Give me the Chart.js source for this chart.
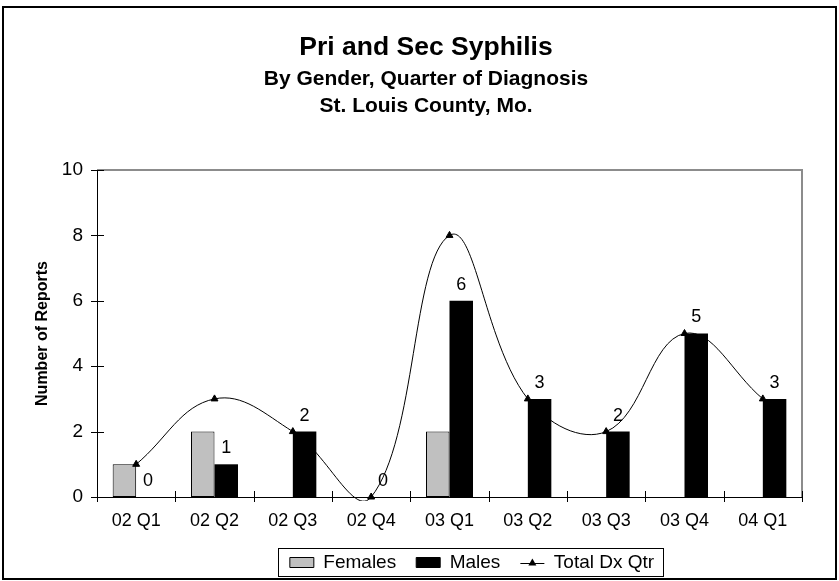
<!DOCTYPE html>
<html>
<head>
<meta charset="utf-8">
<title>Pri and Sec Syphilis</title>
<script src="https://cdn.jsdelivr.net/npm/chart.js@4.4.1/dist/chart.umd.min.js"></script>
<style>
  html, body { margin: 0; padding: 0; background: #fff; }
  #wrap { width: 839px; height: 581px; }
</style>
</head>
<body>
<div id="wrap"><canvas id="syphilisChart" width="839" height="581"></canvas></div>
<script>
// data
const quarters = ['02 Q1', '02 Q2', '02 Q3', '02 Q4', '03 Q1', '03 Q2', '03 Q3', '03 Q4', '04 Q1'];
const females = [1, 2, 0, 0, 2, 0, 0, 0, 0];
const males = [0, 1, 2, 0, 6, 3, 2, 5, 3];
const totalDx = [1, 3, 2, 0, 8, 3, 2, 5, 3];
const yTicks = [0, 2, 4, 6, 8, 10];

const FONT = "'Liberation Sans', Arial, sans-serif";
Chart.defaults.font.family = FONT;
Chart.defaults.color = '#000';

const LEGEND_SHIFT_X = 71;
const LEGEND_SHIFT_Y = 1;
const TITLE_SHIFT_X = 25;

// frame, plot border, cross ticks, value labels, legend box
const excelBits = {
    id: 'excelBits',
    afterLayout(chart) {
        const lg = chart.legend;
        lg.left += LEGEND_SHIFT_X;
        lg.right += LEGEND_SHIFT_X;
        lg.top += LEGEND_SHIFT_Y;
        lg.bottom += LEGEND_SHIFT_Y;
        // let the x labels use the room down to the legend
        chart.scales.x.bottom = lg.top + 12;
        // title and subtitle sit a little right of the canvas centre
        chart.boxes.forEach(b => {
            if (b.options && b.options.position === 'top' && 'text' in b.options) {
                b.left += TITLE_SHIFT_X;
                b.right += TITLE_SHIFT_X;
            }
        });
    },
    beforeDraw(chart) {
        const ctx = chart.ctx;
        ctx.save();
        ctx.fillStyle = '#fff';
        ctx.fillRect(0, 0, chart.width, chart.height);
        ctx.strokeStyle = '#000';
        ctx.lineWidth = 2;
        ctx.strokeRect(3, 7, 833, 572);
        ctx.restore();
    },
    beforeDatasetsDraw(chart) {
        const ctx = chart.ctx;
        const a = chart.chartArea;
        const y = chart.scales.y;
        ctx.save();
        // grey top/right edge of the plot area
        ctx.strokeStyle = '#8c8c8c';
        ctx.lineWidth = 2;
        ctx.beginPath();
        ctx.moveTo(a.left, a.top);
        ctx.lineTo(a.right, a.top);
        ctx.lineTo(a.right, a.bottom);
        ctx.stroke();
        // ticks crossing the axes
        ctx.strokeStyle = '#000';
        ctx.lineWidth = 1;
        ctx.beginPath();
        yTicks.forEach(v => {
            const py = Math.round(y.getPixelForValue(v)) + 0.5;
            ctx.moveTo(a.left - 6, py);
            ctx.lineTo(a.left + 7, py);
        });
        const step = (a.right - a.left) / quarters.length;
        for (let i = 0; i <= quarters.length; i++) {
            const px = Math.round(a.left + i * step) + 0.5;
            ctx.moveTo(px, a.bottom - 6);
            ctx.lineTo(px, a.bottom + 5);
        }
        ctx.stroke();
        ctx.restore();
    },
    afterDatasetsDraw(chart) {
        const ctx = chart.ctx;
        const meta = chart.getDatasetMeta(1);
        ctx.save();
        ctx.fillStyle = '#000';
        ctx.font = '18px ' + FONT;
        ctx.textAlign = 'center';
        ctx.textBaseline = 'middle';
        meta.data.forEach((bar, i) => {
            ctx.fillText(String(males[i]), bar.x, bar.y - 16);
        });
        ctx.restore();
    },
    afterDraw(chart) {
        const ctx = chart.ctx;
        const hits = chart.legend.legendHitBoxes;
        if (!hits || !hits.length) return;
        const first = hits[0], last = hits[hits.length - 1];
        const cy = first.top + first.height / 2;
        ctx.save();
        ctx.strokeStyle = '#000';
        ctx.lineWidth = 1;
        ctx.strokeRect(Math.round(first.left - 12) + 0.5, Math.round(cy - 15) + 0.5,
            Math.round(last.left + last.width + 9 - (first.left - 12)), 28);
        // line sample with triangle marker
        ctx.beginPath();
        ctx.moveTo(last.left, Math.round(cy) + 0.5);
        ctx.lineTo(last.left + 24, Math.round(cy) + 0.5);
        ctx.stroke();
        const mx = last.left + 12;
        ctx.fillStyle = '#000';
        ctx.beginPath();
        ctx.moveTo(mx, cy - 4);
        ctx.lineTo(mx + 4, cy + 3);
        ctx.lineTo(mx - 4, cy + 3);
        ctx.closePath();
        ctx.fill();
        ctx.restore();
    }
};

new Chart(document.getElementById('syphilisChart'), {
    type: 'bar',
    data: {
        labels: quarters,
        datasets: [{
            label: 'Females',
            data: females,
            backgroundColor: '#c0c0c0',
            borderColor: '#000',
            borderWidth: 1,
            borderSkipped: false,
            barPercentage: 1,
            categoryPercentage: 0.6,
            order: 1
        }, {
            label: 'Males',
            data: males,
            backgroundColor: '#000',
            borderColor: '#000',
            borderWidth: 0,
            barPercentage: 1,
            categoryPercentage: 0.6,
            order: 1
        }, {
            type: 'line',
            label: 'Total Dx Qtr',
            data: totalDx,
            borderColor: '#000',
            backgroundColor: '#000',
            borderWidth: 1,
            tension: 0.4,
            pointStyle: 'triangle',
            pointRadius: 4,
            pointBackgroundColor: '#000',
            pointBorderColor: '#000',
            clip: { left: 5, top: 5, right: 5, bottom: 4 },
            order: 0
        }]
    },
    options: {
        responsive: false,
        animation: false,
        events: [],
        elements: { line: { capBezierPoints: false } },
        layout: { padding: { left: 0, right: 37, top: 0, bottom: 0 } },
        plugins: {
            title: {
                display: true,
                text: 'Pri and Sec Syphilis',
                color: '#000',
                font: { size: 26.5, weight: 'bold', lineHeight: 1.2 },
                padding: { top: 32, bottom: 1.7 }
            },
            subtitle: {
                display: true,
                text: ['By Gender, Quarter of Diagnosis', 'St. Louis County, Mo.'],
                color: '#000',
                font: { size: 21, weight: 'bold', lineHeight: 27 / 21 },
                padding: { top: 0, bottom: 50.5 }
            },
            legend: {
                position: 'bottom',
                labels: {
                    boxWidth: 24,
                    boxHeight: 10,
                    padding: 20,
                    color: '#000',
                    font: { size: 19 },
                    sort: (a, b) => a.datasetIndex - b.datasetIndex,
                    generateLabels(chart) {
                        const items = Chart.defaults.plugins.legend.labels.generateLabels(chart);
                        items.forEach(it => {
                            if (it.datasetIndex === 2) {
                                it.fillStyle = 'rgba(0,0,0,0)';
                                it.strokeStyle = 'rgba(0,0,0,0)';
                                it.lineWidth = 0;
                            } else {
                                it.strokeStyle = '#000';
                                it.lineWidth = 1;
                            }
                        });
                        return items;
                    }
                }
            },
            tooltip: { enabled: false }
        },
        scales: {
            x: {
                grid: { display: false, drawTicks: false },
                border: { color: '#000', width: 1 },
                ticks: { color: '#000', font: { size: 18 }, padding: 13, maxRotation: 0, autoSkip: false },
                afterFit(axis) { axis.height = 35; }
            },
            y: {
                min: 0,
                max: 10,
                grid: { display: false, drawTicks: false },
                border: { color: '#000', width: 1 },
                ticks: { color: '#000', font: { size: 19 }, padding: 14 },
                afterBuildTicks(axis) { axis.ticks = yTicks.map(v => ({ value: v })); },
                title: {
                    display: true,
                    text: 'Number of Reports',
                    color: '#000',
                    font: { size: 16, weight: 'bold' },
                    padding: { top: 33, bottom: 0 }
                },
                afterFit(axis) { axis.width = 97; }
            }
        }
    },
    plugins: [excelBits]
});
</script>
</body>
</html>
